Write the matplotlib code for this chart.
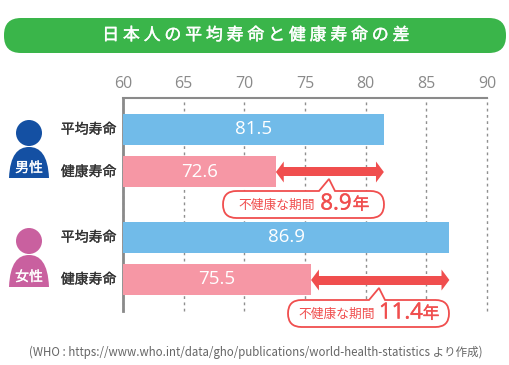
import matplotlib
matplotlib.use("Agg")
import matplotlib.pyplot as plt
import matplotlib.patheffects as pe
from matplotlib.patches import Circle, FancyArrow, FancyBboxPatch, PathPatch
from matplotlib.path import Path

plt.rcParams['font.family'] = ['Noto Sans CJK JP', 'DejaVu Sans']

title = "日 本 人 の 平 均 寿 命 と 健 康 寿 命 の 差"
footnote = "(WHO : https://www.who.int/data/gho/publications/world-health-statistics より作成)"
row_labels = ["平均寿命", "健康寿命", "平均寿命", "健康寿命"]
life_values = [81.5, 72.6, 86.9, 75.5]
x_ticks = [60, 65, 70, 75, 80, 85, 90]
callout_label = "不健康な期間"
gap_values = ["8.9", "11.4"]
gender_labels = ["男性", "女性"]

BLUE = "#71bbe9"
PINK = "#f697a5"
RED = "#f04e4e"
GREY = "#8a8a8a"


def heavier(text, color, amount=0.2):
    # no medium weight installed, so thicken the regular one a little
    text.set_path_effects([pe.withStroke(linewidth=amount, foreground=color)])


def callout(ov, x0, x1, y0, y1, apex_x, apex_y):
    # speech bubble, pointer on top edge
    r = (y1 - y0) / 2
    verts = [(x0 + r, y0), (apex_x - 10, y0), (apex_x, apex_y), (apex_x + 6, y0),
             (x1 - r, y0), (x1, y0), (x1, y0 + r), (x1, y1), (x1 - r, y1),
             (x0 + r, y1), (x0, y1), (x0, y0 + r), (x0, y0), (x0 + r, y0)]
    codes = [Path.MOVETO, Path.LINETO, Path.LINETO, Path.LINETO, Path.LINETO,
             Path.CURVE3, Path.CURVE3, Path.CURVE3, Path.CURVE3, Path.LINETO,
             Path.CURVE3, Path.CURVE3, Path.CURVE3, Path.CURVE3]
    ov.add_patch(PathPatch(Path(verts, codes), fc="white", ec=RED, lw=1.3))


def person(ov, head_y, body_top, body_bottom, color, label):
    ov.add_patch(Circle((29, head_y), 13, fc=color, ec="none"))
    verts = [(9, body_bottom), (10, body_top + 8), (18, body_top), (29, body_top),
             (40, body_top), (48, body_top + 8), (49, body_bottom), (9, body_bottom)]
    codes = [Path.MOVETO, Path.CURVE4, Path.CURVE4, Path.CURVE4,
             Path.CURVE4, Path.CURVE4, Path.CURVE4, Path.CLOSEPOLY]
    ov.add_patch(PathPatch(Path(verts, codes), fc=color, ec="none"))
    t = ov.text(29, body_bottom - 10, label, color="white", fontsize=10, ha="center", va="center")
    heavier(t, "white")


fig = plt.figure(figsize=(5.1, 3.65), dpi=100)

# main axes, y axis is in picture pixels so rows sit where they should
ax = fig.add_axes([123 / 510, 1 - 311 / 365, (487 - 123) / 510, (311 - 98) / 365])
ax.set_xlim(60, 90)
ax.set_ylim(311, 98)
row_y = [129.5, 172, 237.5, 279.5]
colors = [BLUE, PINK, BLUE, PINK]

ax.barh(row_y, [v - 60 for v in life_values], left=60, height=31, color=colors, zorder=3)
for y, v in zip(row_y, life_values):
    ax.text((60 + v) / 2, y, str(v), color="white", fontsize=13.5, ha="center", va="center",
            family=["Open Sans", "DejaVu Sans"], zorder=4)
for y, name in zip(row_y, row_labels):
    t = ax.text(59.45, y, name, color="#333333", fontsize=10, ha="right", va="center")
    heavier(t, "#333333")

ax.xaxis.tick_top()
ax.set_xticks(x_ticks)
ax.set_yticks([])
ax.tick_params(axis="x", length=0, pad=4, labelsize=11.5, labelcolor=GREY)
for lab in ax.get_xticklabels():
    lab.set_family(["Open Sans", "DejaVu Sans"])
ax.grid(axis="x", color="#8f8f8f", linewidth=1, linestyle=(0, (2, 2.5)), zorder=1, clip_on=False)
ax.set_axisbelow(True)
for s in ["right", "bottom"]:
    ax.spines[s].set_visible(False)
ax.spines["top"].set_color(GREY)
ax.spines["top"].set_linewidth(1.5)
ax.spines["left"].set_color(GREY)
ax.spines["left"].set_linewidth(2)

# double arrows between the healthy and the average value: shaft, then two heads
head_len = 0.65
for avg, healthy, y in [(life_values[0], life_values[1], 172), (life_values[2], life_values[3], 280)]:
    ax.barh(y, avg - healthy - 1.5 * head_len, left=healthy + 0.75 * head_len, height=9, color=RED, zorder=4)
    for start, end in ((healthy + head_len, healthy), (avg - head_len, avg)):
        ax.add_patch(FancyArrow(start, y, end - start, 0, width=9, head_width=21, head_length=head_len,
                                length_includes_head=True, fc=RED, ec="none", zorder=4))

# everything else goes on an overlay in pixel coordinates
ov = fig.add_axes([0, 0, 1, 1])
ov.set_xlim(0, 510)
ov.set_ylim(365, 0)
ov.axis("off")
ov.patch.set_alpha(0)

ov.add_patch(FancyBboxPatch((4, 18), 502, 35, boxstyle="round,pad=0,rounding_size=17",
                            fc="#3ab54a", ec="none"))
t = ov.text(255, 35, title, color="white", fontsize=12.2, ha="center", va="center")
heavier(t, "white", 0.3)

person(ov, 133, 147, 178, "#1450a3", gender_labels[0])
person(ov, 241, 255, 287, "#c9609f", gender_labels[1])

callout(ov, 223, 384, 191, 218, 329, 179)
callout(ov, 288, 449, 300, 327, 379, 288)
num_font = ["Open Sans", "DejaVu Sans"]
ov.text(277, 205, callout_label, color=RED, fontsize=9.2, ha="center", va="center")
t = ov.text(336, 204, gap_values[0], color=RED, fontsize=16, ha="center", va="center", family=num_font)
heavier(t, RED, 0.3)
t = ov.text(361, 205, "年", color=RED, fontsize=12, ha="center", va="center")
heavier(t, RED, 0.3)
ov.text(337, 314, callout_label, color=RED, fontsize=9.2, ha="center", va="center")
t = ov.text(401, 313, gap_values[1], color=RED, fontsize=16, ha="center", va="center", family=num_font)
heavier(t, RED, 0.3)
t = ov.text(431, 314, "年", color=RED, fontsize=12, ha="center", va="center")
heavier(t, RED, 0.3)

ov.text(29, 352, footnote, color="#666666", fontsize=8.3, ha="left", va="center")

fig.savefig("out.png", dpi=100, facecolor="white")
